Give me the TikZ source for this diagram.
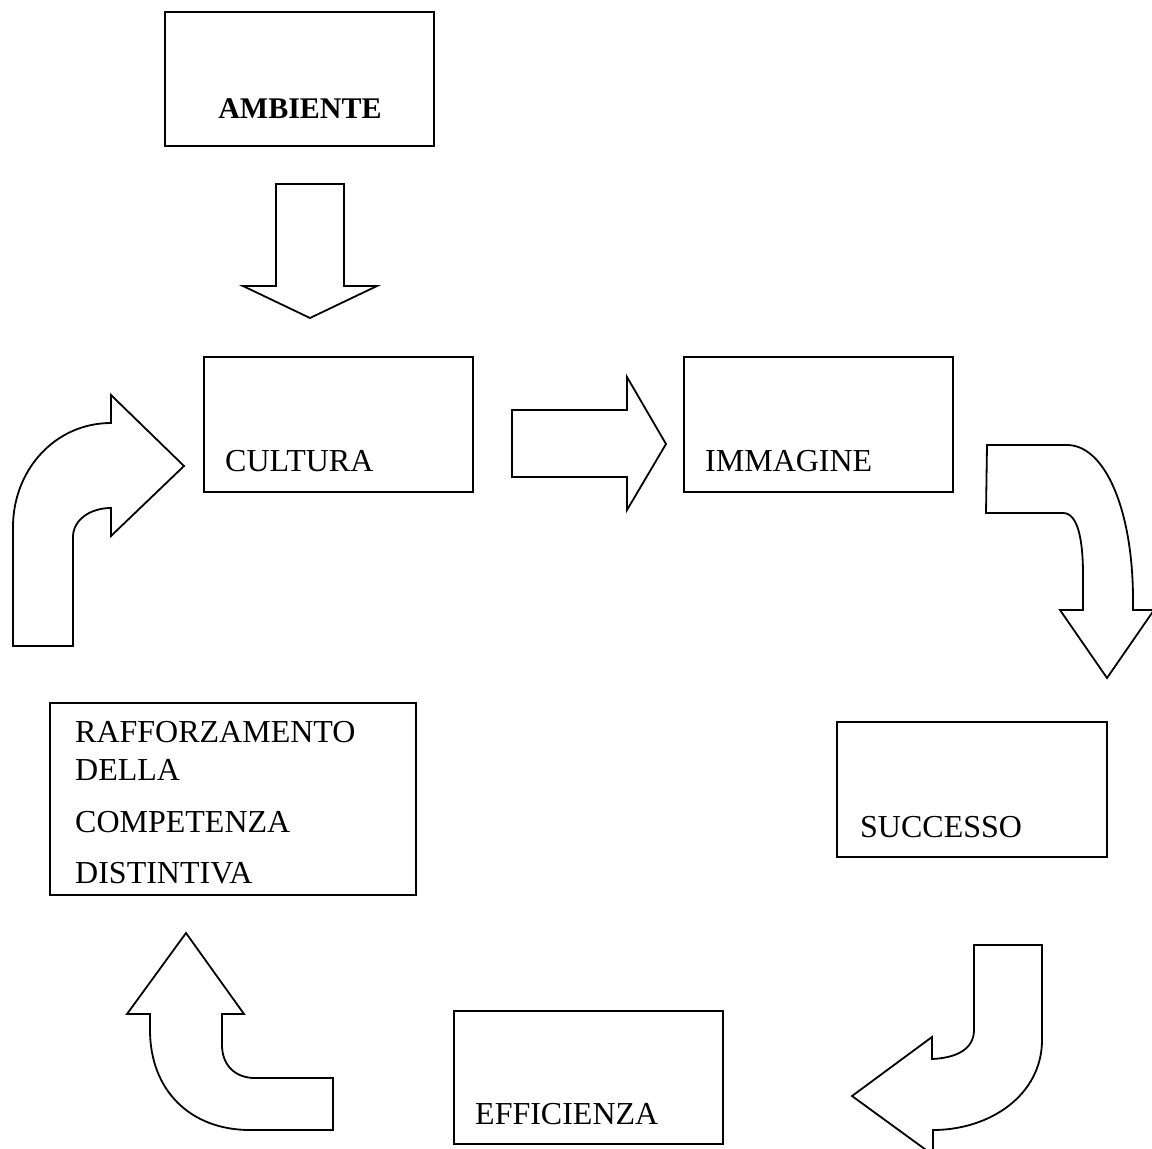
\documentclass[tikz,border=0pt]{standalone}
\usepackage{fontspec}
\setmainfont{Liberation Serif}
\begin{document}
\begin{tikzpicture}[x=1pt,y=-1pt,
  box/.style={draw, line width=2pt, inner sep=0pt, fill=white},
  lbl/.style={anchor=base west, inner sep=0pt, font=\fontsize{32}{32}\selectfont},
  blockarrow/.style={draw, line width=1.8pt, line join=miter, fill=white}]
\useasboundingbox (0,0) rectangle (1152,1149);
\clip (0,0) rectangle (1152,1149);

% boxes
\node[box, minimum width=269pt, minimum height=134pt] (amb) at (299.5,79) {};
\node[box, minimum width=269pt, minimum height=135pt] (cul) at (338.5,424.5) {};
\node[box, minimum width=269pt, minimum height=135pt] (imm) at (818.5,424.5) {};
\node[box, minimum width=270pt, minimum height=135pt] (suc) at (972,789.5) {};
\node[box, minimum width=366pt, minimum height=192pt] (raf) at (233,799) {};
\node[box, minimum width=269pt, minimum height=133pt] (eff) at (588.5,1077.5) {};

% labels
\node[anchor=base, inner sep=0pt, font=\fontsize{30}{30}\selectfont\bfseries] (tamb) at (300,118) {AMBIENTE};
\node[lbl] (tcul) at (225,471) {CULTURA};
\node[lbl] (timm) at (705,471) {IMMAGINE};
\node[lbl] (tsuc) at (860,837) {SUCCESSO};
\node[lbl] (teff) at (475,1124) {EFFICIENZA};
\node[lbl] (traf1) at (75,742) {RAFFORZAMENTO};
\node[lbl] (traf2) at (75,780) {DELLA};
\node[lbl] (traf3) at (75,832) {COMPETENZA};
\node[lbl] (traf4) at (75,883) {DISTINTIVA};

% straight block arrows
\draw[blockarrow] (276,184) -- (344,184) -- (344,286) -- (377,286) -- (310,318)
  -- (243,286) -- (276,286) -- cycle;
\draw[blockarrow] (512,410) -- (627,410) -- (627,377) -- (666,444) -- (627,510)
  -- (627,477) -- (512,477) -- cycle;

% curved block arrows
\draw[blockarrow] (13,646) -- (13,527) .. controls (13,470) and (55,423) .. (111,423)
  -- (111,395) -- (184,466) -- (111,536) -- (111,508)
  .. controls (90,508) and (73,520) .. (73,537) -- (73,646) -- cycle;
\draw[blockarrow] (987,445) -- (1067,445) .. controls (1105,445) and (1133,510) .. (1133,600)
  -- (1133,610) -- (1154,610) -- (1107,678) -- (1060,610) -- (1083,610) -- (1083,575)
  .. controls (1083,540) and (1078,513) .. (1063,513) -- (986,513) -- cycle;
\draw[blockarrow] (974,945) -- (1042,945) -- (1042,1040)
  .. controls (1042,1095) and (990,1130) .. (933,1130) -- (933,1155) -- (852,1096)
  -- (932,1037) -- (932,1059) .. controls (955,1058) and (974,1050) .. (974,1030) -- cycle;
\draw[blockarrow] (186,933) -- (244,1014) -- (222,1014) -- (222,1045)
  .. controls (222,1065) and (235,1078) .. (255,1078) -- (333,1078) -- (333,1130)
  -- (250,1130) .. controls (190,1130) and (150,1090) .. (150,1030)
  -- (150,1014) -- (127,1014) -- cycle;
\end{tikzpicture}
\end{document}
